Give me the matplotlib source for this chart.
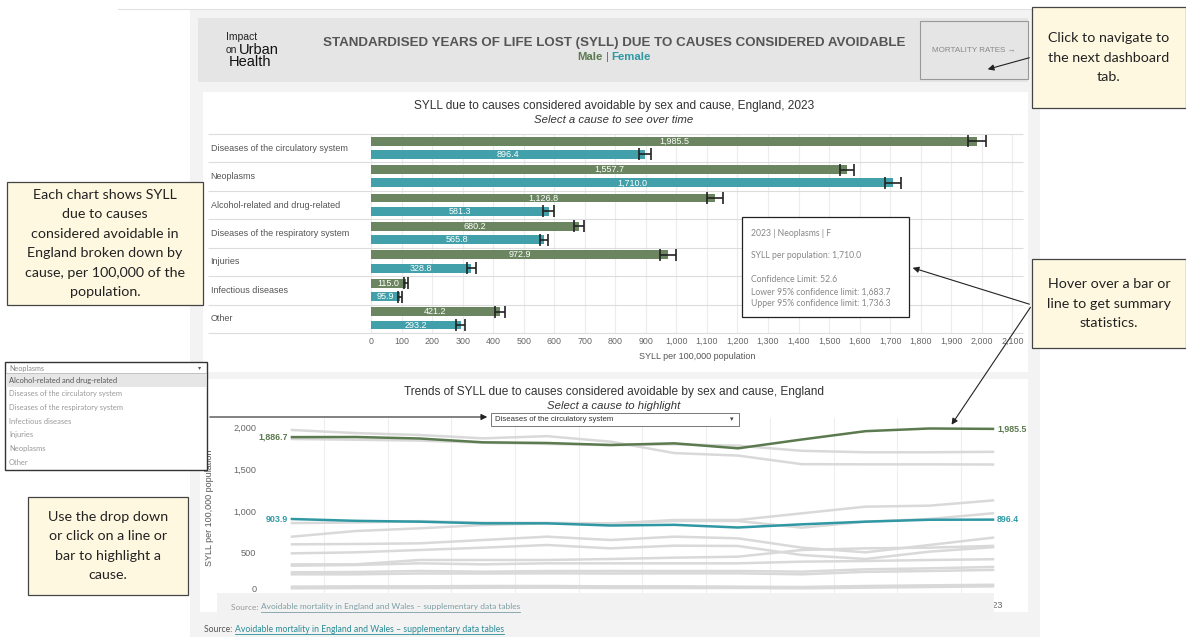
import matplotlib
matplotlib.use("Agg")
import matplotlib.pyplot as plt
from matplotlib.patches import Rectangle
import numpy as np

# ---- data: 2023 bars ----
causes = ['Diseases of the circulatory system', 'Neoplasms', 'Alcohol-related and drug-related',
          'Diseases of the respiratory system', 'Injuries', 'Infectious diseases', 'Other']
male_2023 = [1985.5, 1557.7, 1126.8, 680.2, 972.9, 115.0, 421.2]
female_2023 = [896.4, 1710.0, 581.3, 565.8, 328.8, 95.9, 293.2]
male_lo = [1956.5, 1534.7, 1100.8, 663.7, 947.9, 107.5, 404.7]
male_hi = [2014.5, 1580.7, 1152.8, 696.7, 997.9, 122.5, 437.7]
female_lo = [876.4, 1683.7, 562.3, 552.3, 313.8, 89.4, 279.7]
female_hi = [916.4, 1736.3, 600.3, 579.3, 343.8, 102.4, 306.7]

# ---- data: trends ----
years = list(range(2012, 2024))
male_circ = [1886.7, 1888, 1870, 1824, 1816, 1792, 1812, 1752, 1858, 1958, 1990, 1985.5]
female_circ = [903.9, 882, 872, 852, 852, 826, 834, 802, 840, 872, 895, 896.4]
male_neo = [1972, 1935, 1912, 1872, 1898, 1832, 1695, 1665, 1562, 1560, 1560, 1557.7]
female_neo = [1864, 1855, 1845, 1820, 1805, 1790, 1800, 1784, 1722, 1705, 1705, 1710.0]
male_alc = [692, 760, 792, 832, 852, 850, 892, 892, 972, 1052, 1064, 1126.8]
male_inj = [855, 862, 878, 860, 858, 850, 880, 880, 800, 872, 904, 972.9]
male_resp = [600, 604, 612, 652, 692, 652, 692, 672, 560, 504, 592, 680.2]
female_resp = [492, 504, 532, 560, 592, 552, 584, 580, 472, 424, 512, 565.8]
female_alc = [360, 360, 412, 412, 412, 424, 440, 452, 532, 552, 560, 581.3]
male_other = [344, 352, 372, 360, 372, 372, 372, 372, 392, 400, 412, 421.2]
female_inj = [264, 268, 280, 272, 280, 280, 280, 280, 272, 300, 312, 328.8]
female_other = [240, 240, 250, 250, 252, 250, 252, 252, 240, 270, 280, 293.2]
male_inf = [92, 96, 96, 100, 100, 96, 96, 92, 88, 100, 108, 115.0]
female_inf = [72, 76, 76, 78, 80, 76, 76, 76, 72, 80, 88, 95.9]

dropdown_items = ['Alcohol-related and drug-related', 'Diseases of the circulatory system',
                  'Diseases of the respiratory system', 'Infectious diseases', 'Injuries',
                  'Neoplasms', 'Other']

GREEN = '#6b8560'
TEAL = '#41a0aa'
GREEN_LINE = '#5b7a4f'
TEAL_LINE = '#2f98a3'
GREY_LINE = '#d9d9d9'
CREAM = '#fff8e1'
SANS = ['Liberation Sans', 'DejaVu Sans']
BOOK = ['Lato', 'DejaVu Sans']

W, H = 1186, 637
fig = plt.figure(figsize=(W / 100, H / 100), dpi=100)


def px_rect(x0, y0, x1, y1):
    return [x0 / W, 1 - y1 / H, (x1 - x0) / W, (y1 - y0) / H]


def overlay(z):
    a = fig.add_axes([0, 0, 1, 1], zorder=z)
    a.set_xlim(0, W)
    a.set_ylim(H, 0)
    a.axis('off')
    return a


bg = overlay(0)
fg = overlay(10)

# ---- background / panels ----
bg.add_patch(Rectangle((190, 10), 850, 627, color='#f3f3f3', lw=0))
bg.plot([118, 1040], [9, 9], color='#e2e2e2', lw=0.8)
bg.add_patch(Rectangle((198, 18), 830, 64, color='#e5e5e5', lw=0))
bg.add_patch(Rectangle((203, 92), 825, 280, color='white', lw=0))
bg.add_patch(Rectangle((200, 379), 828, 233, color='white', lw=0))

# header
bg.text(226, 37, 'Impact', fontsize=7.5, family=SANS, color='#222', va='center')
bg.text(226, 50, 'on', fontsize=7.5, family=SANS, color='#222', va='center')
bg.text(239, 50, 'Urban', fontsize=10.5, family=SANS, color='#111', va='center')
bg.text(229, 62, 'Health', fontsize=10.5, family=SANS, color='#111', va='center')
bg.text(614, 43, 'STANDARDISED YEARS OF LIFE LOST (SYLL) DUE TO CAUSES CONSIDERED AVOIDABLE',
        fontsize=9.6, family=SANS, weight='bold', color='#555', ha='center', va='center')
bg.text(603, 57, 'Male', fontsize=8.2, family=SANS, weight='bold', color=GREEN_LINE, ha='right', va='center')
bg.text(607, 57, '|', fontsize=8.2, family=SANS, color='#666', ha='center', va='center')
bg.text(611, 57, 'Female', fontsize=8.2, family=SANS, weight='bold', color=TEAL_LINE, ha='left', va='center')
bg.add_patch(Rectangle((920, 21), 108, 58, fc='#e5e5e5', ec='#999', lw=0.8))
bg.text(974, 50, 'MORTALITY RATES \u2192', fontsize=5.8, family=SANS, color='#888', ha='center', va='center')

# chart titles
bg.text(614, 106, 'SYLL due to causes considered avoidable by sex and cause, England, 2023',
        fontsize=8.6, family=SANS, color='#333', ha='center', va='center')
bg.text(614, 120, 'Select a cause to see over time', fontsize=8.2, family=SANS, style='italic',
        color='#333', ha='center', va='center')
bg.text(614, 392, 'Trends of SYLL due to causes considered avoidable by sex and cause, England',
        fontsize=8.6, family=SANS, color='#333', ha='center', va='center')
bg.text(614, 406, 'Select a cause to highlight', fontsize=8.2, family=SANS, style='italic',
        color='#333', ha='center', va='center')

# ---- bar chart ----
ax = fig.add_axes(px_rect(371, 134, 1023, 333), zorder=2)
ax.set_facecolor('none')
n = len(causes)
rows = np.arange(n)
ax.barh(rows + 0.25, male_2023, height=0.31, color=GREEN, zorder=3)
ax.barh(rows + 0.72, female_2023, height=0.31, color=TEAL, zorder=3)
ax.errorbar(male_2023, rows + 0.25,
            xerr=[np.array(male_2023) - np.array(male_lo), np.array(male_hi) - np.array(male_2023)],
            fmt='none', ecolor='#222', elinewidth=1.2, capsize=4.5, capthick=1.2, zorder=4)
ax.errorbar(female_2023, rows + 0.72,
            xerr=[np.array(female_2023) - np.array(female_lo), np.array(female_hi) - np.array(female_2023)],
            fmt='none', ecolor='#222', elinewidth=1.2, capsize=4.5, capthick=1.2, zorder=4)
for i in range(n):
    ax.text(male_2023[i] / 2, i + 0.25, f'{male_2023[i]:,.1f}', color='white', fontsize=6.5,
            family=SANS, ha='center', va='center', zorder=5)
    ax.text(female_2023[i] / 2, i + 0.72, f'{female_2023[i]:,.1f}', color='white', fontsize=6.5,
            family=SANS, ha='center', va='center', zorder=5)
    ax.text(-0.246, i + 0.5, causes[i], transform=ax.get_yaxis_transform(), fontsize=6.5,
            family=SANS, color='#555', ha='left', va='center')
ax.hlines(np.arange(n + 1), -0.25, 1, transform=ax.get_yaxis_transform(), clip_on=False,
          color='#dcdcdc', lw=0.8, zorder=1)
ax.set_xlim(0, 2135)
ax.set_ylim(n, 0)
xt = np.arange(0, 2101, 100)
ax.set_xticks(xt)
ax.set_xticklabels([f'{v:,}' for v in xt], fontsize=6.4, color='#666', family=SANS)
ax.set_yticks([])
ax.tick_params(axis='x', length=0, pad=3)
ax.grid(axis='x', color='#ececec', lw=0.8, zorder=0)
ax.set_axisbelow(True)
for s in ax.spines.values():
    s.set_visible(False)
ax.set_xlabel('SYLL per 100,000 population', fontsize=6.5, color='#555', family=SANS, labelpad=4)

# ---- line chart ----
lx = fig.add_axes(px_rect(262, 418, 1000, 598), zorder=2)
lx.set_facecolor('none')
grey_series = [male_neo, female_neo, male_alc, male_inj, male_resp, female_resp, female_alc,
               male_other, female_inj, female_other, male_inf, female_inf]
for s in grey_series:
    lx.plot(years, s, color=GREY_LINE, lw=1.8, zorder=2)
lx.plot(years, male_circ, color=GREEN_LINE, lw=1.8, zorder=3)
lx.plot(years, female_circ, color=TEAL_LINE, lw=1.8, zorder=3)
for series, col in [(male_circ, GREEN_LINE), (female_circ, TEAL_LINE)]:
    lx.annotate(f'{series[0]:,.1f}', (years[0], series[0]), xytext=(-3, 0), textcoords='offset points',
                ha='right', va='center', fontsize=6.4, weight='bold', color=col, family=SANS)
    lx.annotate(f'{series[-1]:,.1f}', (years[-1], series[-1]), xytext=(3, 0), textcoords='offset points',
                ha='left', va='center', fontsize=6.4, weight='bold', color=col, family=SANS)
lx.set_xlim(2011.53, 2023.11)
lx.set_ylim(-44, 2116)
yt = [0, 500, 1000, 1500, 2000]
lx.set_yticks(yt)
lx.set_yticklabels([f'{v:,}' for v in yt], fontsize=6.6, color='#666', family=SANS)
lx.get_yticklabels()[0].set_verticalalignment('bottom')
# only the last year label peeks out from under the source strip
lx.set_xticks(years)
lx.set_xticklabels(['' for y in years[:-1]] + [str(years[-1])], fontsize=6.6, color='#666', family=SANS)
lx.set_xticks(np.array(years[:-1]) + 0.5, minor=True)
lx.tick_params(which='both', length=0)
lx.tick_params(axis='y', pad=4)
lx.tick_params(axis='x', pad=2)
lx.grid(axis='x', which='minor', color='#eeeeee', lw=0.8)
for s in lx.spines.values():
    s.set_visible(False)
lx.set_ylabel('SYLL per 100,000 population', fontsize=6.5, color='#555', family=SANS)
lx.yaxis.set_label_coords(-0.065, 0.5)

# dropdown inside chart
fg.add_patch(Rectangle((491, 413), 248, 13, fc='white', ec='#777', lw=0.7))
fg.text(495, 419.5, 'Diseases of the circulatory system', fontsize=5.6, family=SANS, color='#333', va='center')
fg.text(732, 419.5, '\u25be', fontsize=5, family=['DejaVu Sans'], color='#444', ha='center', va='center')

# source band overlapping the axis
fg.add_patch(Rectangle((217, 593), 777, 26, color='#f2f2f2', lw=0))
fig.canvas.draw()
renderer = fig.canvas.get_renderer()


def source_line(x, y, size, c1, c2):
    t1 = fg.text(x, y, 'Source: ', fontsize=size, family=BOOK, color=c1, va='center')
    bb = t1.get_window_extent(renderer)
    x2 = x + bb.width
    t2 = fg.text(x2, y, 'Avoidable mortality in England and Wales \u2013 supplementary data tables',
                 fontsize=size, family=BOOK, color=c2, va='center')
    bb2 = t2.get_window_extent(renderer)
    fg.plot([x2, x2 + bb2.width], [y + 4.5, y + 4.5], color=c2, lw=0.6)


source_line(231, 607, 6.0, '#999', '#7d9ea3')
source_line(204, 629, 6.2, '#555', '#2a8b96')

# tooltip
fg.add_patch(Rectangle((742, 217), 167, 100, fc='white', ec='#222', lw=0.9))
tip = [('2023 | Neoplasms | F', 233), ('SYLL per population: 1,710.0', 256),
       ('Confidence Limit: 52.6', 280), ('Lower 95% confidence limit: 1,683.7', 292),
       ('Upper 95% confidence limit: 1,736.3', 303)]
for txt, yy in tip:
    fg.text(751, yy, txt, fontsize=6.2, family=BOOK, color='#888', va='center')

# left dropdown list
fg.add_patch(Rectangle((5, 362), 202, 108, fc='white', ec='#333', lw=1.0))
fg.add_patch(Rectangle((6, 373), 200, 14, fc='#e6e6e6', lw=0))
fg.plot([6, 206], [373, 373], color='#bbb', lw=0.6)
fg.text(9, 368, 'Neoplasms', fontsize=5.2, family=BOOK, color='#888', va='center')
fg.text(200, 368, '\u25be', fontsize=4.5, family=['DejaVu Sans'], color='#555', ha='center', va='center')
for k, item in enumerate(dropdown_items):
    fg.text(9, 380 + k * 13.7, item, fontsize=5.4, family=BOOK,
            color='#555' if k == 0 else '#999', va='center')

# callout boxes
callouts = [
    ((1032, 7, 154, 101), 'Click to navigate to\nthe next dashboard\ntab.'),
    ((7, 182, 196, 123), 'Each chart shows SYLL\ndue to causes\nconsidered avoidable in\nEngland broken down by\ncause, per 100,000 of the\npopulation.'),
    ((28, 497, 160, 98), 'Use the drop down\nor click on a line or\nbar to highlight a\ncause.'),
    ((1032, 259, 154, 89), 'Hover over a bar or\nline to get summary\nstatistics.'),
]
for (x0, y0, w, h), txt in callouts:
    fg.add_patch(Rectangle((x0, y0), w, h, fc=CREAM, ec='#444', lw=0.9))
    fg.text(x0 + w / 2, y0 + h / 2, txt, fontsize=10.3, family=BOOK, color='#222',
            ha='center', va='center', linespacing=1.75)

arrow = dict(arrowstyle='-|>', color='#222', lw=0.8, mutation_scale=9)
fg.annotate('', xy=(985, 70), xytext=(1032, 57), arrowprops=arrow)
fg.annotate('', xy=(910, 267), xytext=(1032, 305), arrowprops=arrow)
fg.annotate('', xy=(950, 427), xytext=(1032, 305), arrowprops=arrow)
fg.annotate('', xy=(490, 417), xytext=(207, 417), arrowprops=arrow)

fig.savefig('out.png', dpi=100)
